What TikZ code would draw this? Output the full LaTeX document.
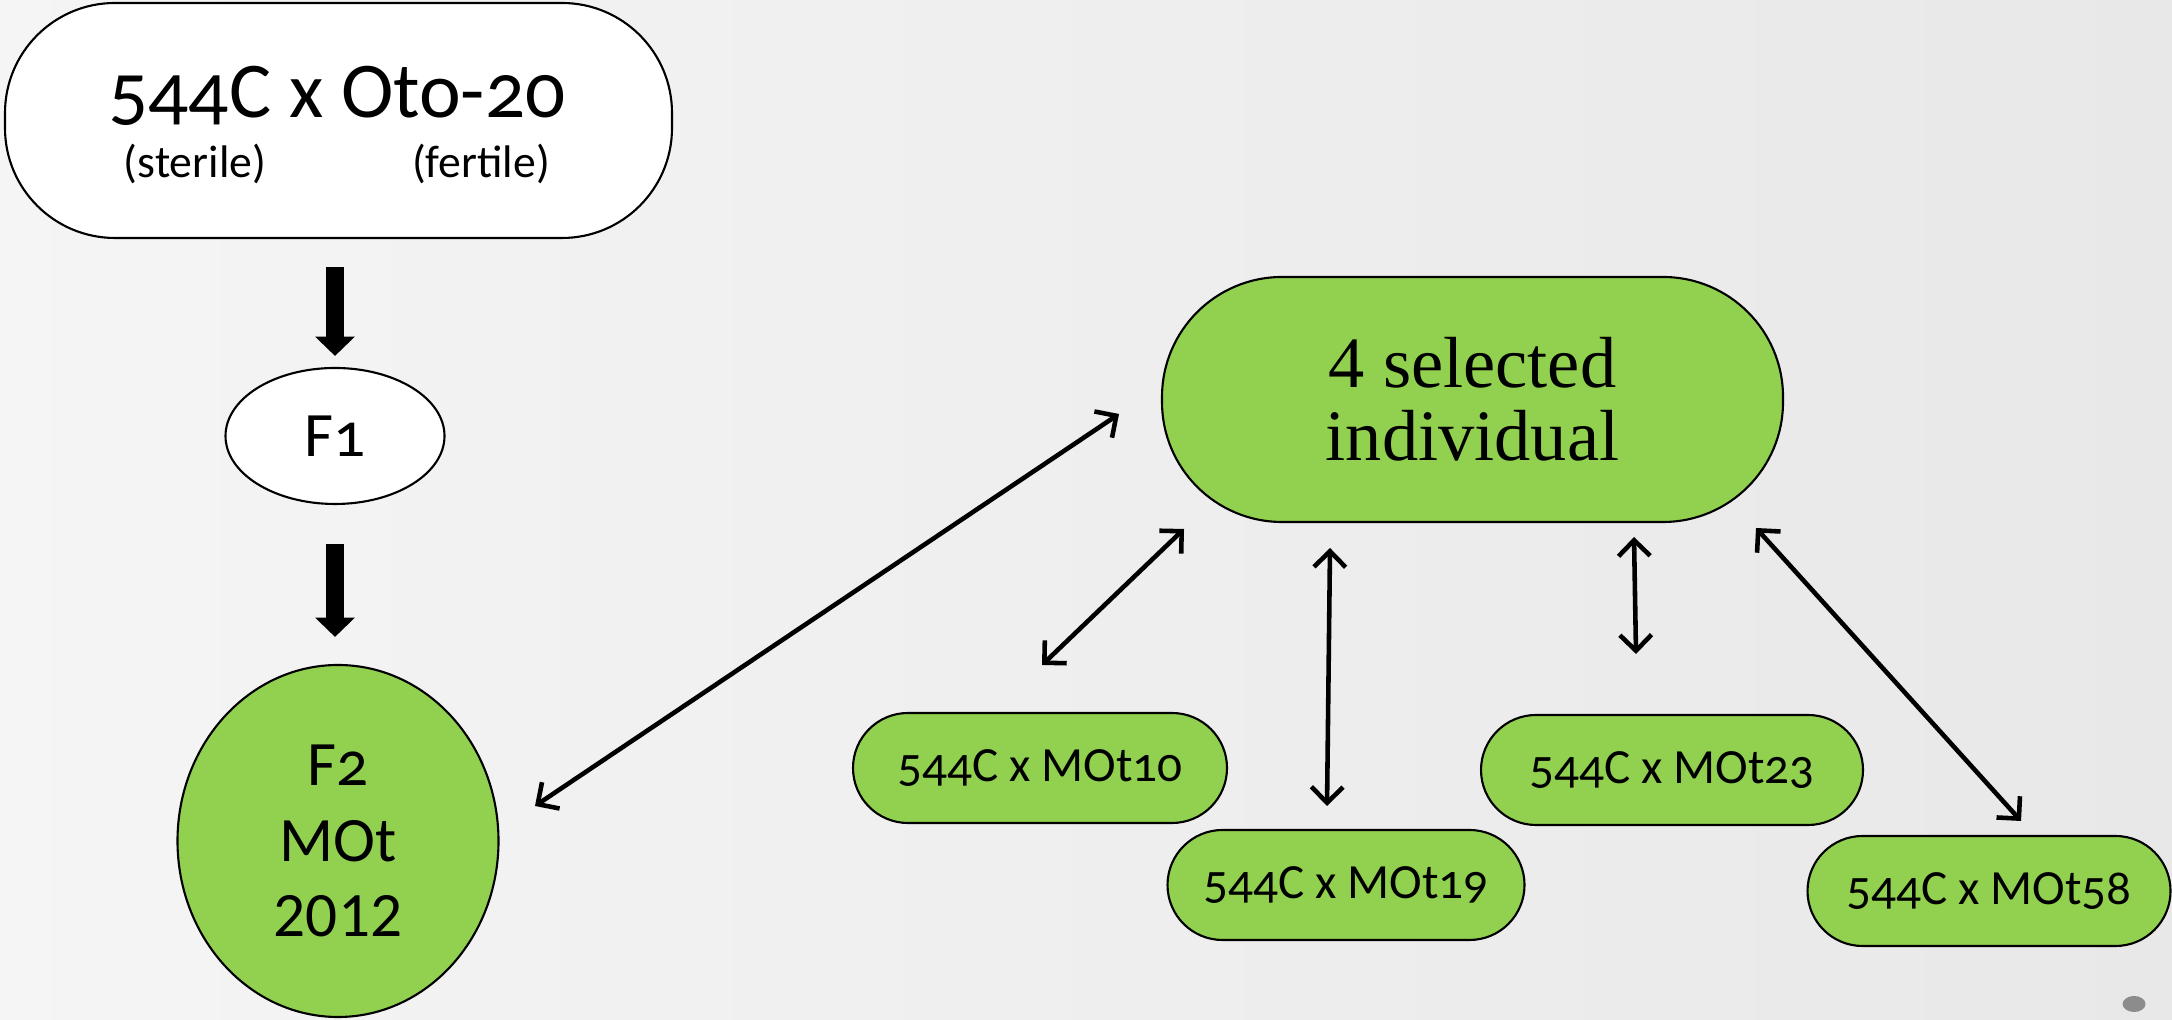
\documentclass[tikz,border=0pt]{standalone}
\usepackage{fontspec}
\setmainfont{Carlito}[Numbers=OldStyle]
\newfontfamily\bookfont{Liberation Serif}
\usetikzlibrary{arrows.meta, positioning, shapes.geometric}
\definecolor{leafgreen}{HTML}{92D050}

\begin{document}
\begin{tikzpicture}[x=1cm, y=1cm, >={Straight Barb[length=4.5pt, width=9pt]},
  every node/.style={inner sep=0pt},
  whiteoval/.style={draw=black, line width=0.6pt, fill=white},
  greenoval/.style={draw=black, line width=0.6pt, fill=leafgreen},
  pill/.style={greenoval, rounded corners=0.55cm, minimum width=#1, minimum height=1.1cm, font=\fontsize{14}{16}\selectfont},
  bigarrow/.style={line width=5pt, -{Triangle[width=11pt, length=5.5pt]}},
  link/.style={<->, line width=1.3pt}]

% Slide background
\shade[left color=black!4, middle color=white, right color=black!9] (0,0) rectangle (21.72,10.2);
\useasboundingbox (0,0) rectangle (21.72,10.2);

% Parent cross
\node[whiteoval, rounded corners=1.1cm, minimum width=6.67cm, minimum height=2.35cm] (cross) at (3.385,8.995) {};
\node[anchor=base, font=\fontsize{22.5}{26}\selectfont] (crossname) at (3.37,9.02) {544C x Oto-20};
\node[anchor=base, font=\fontsize{13}{15}\selectfont] (sterile) at (1.95,8.42) {(sterile)};
\node[anchor=base, font=\fontsize{13}{15}\selectfont] (fertile) at (4.81,8.42) {(fertile)};

% F1 and F2 generations
\node[whiteoval, ellipse, minimum width=2.19cm, minimum height=1.36cm, font=\fontsize{18}{21}\selectfont] (f1) at (3.35,5.84) {F1};
\node[greenoval, ellipse, minimum width=3.21cm, minimum height=3.52cm, align=center, font=\fontsize{18}{21.4}\selectfont] (f2) at (3.38,1.79) {F2\\MOt\\{\addfontfeatures{Numbers=Lining}2012}};

\draw[bigarrow, shorten <=0.28cm, shorten >=0.11cm] (f1 |- cross.south) -- (f1.north);
\draw[bigarrow, shorten <=0.39cm, shorten >=0.27cm] (f1.south) -- (f1.south |- f2.north);

% Selected individuals
\node[greenoval, rounded corners=1.2cm, minimum width=6.21cm, minimum height=2.45cm, align=center, font=\bookfont\fontsize{20.6}{20.7}\selectfont] (sel) at (14.725,6.205) {4 selected\\individual};

% Test crosses
\node[pill=3.74cm] (mot10) at (10.40,2.52) {544C x MOt10};
\node[pill=3.57cm] (mot19) at (13.46,1.35) {544C x MOt19};
\node[pill=3.82cm] (mot23) at (16.72,2.50) {544C x MOt23};
\node[pill=3.63cm] (mot58) at (19.89,1.29) {544C x MOt58};

% Arrow ends
\coordinate (f2-end) at (5.35,2.14);
\coordinate (sel-f2) at (11.19,6.06);
\coordinate (mot10-end) at (10.42,3.55);
\coordinate (sel-mot10) at (11.84,4.91);
\coordinate (mot19-end) at (13.27,2.14);
\coordinate (sel-mot19) at (13.30,4.72);
\coordinate (mot23-end) at (16.36,3.66);
\coordinate (sel-mot23) at (16.34,4.83);
\coordinate (mot58-end) at (20.21,1.99);
\coordinate (sel-mot58) at (17.56,4.92);

\draw[link] (f2-end) -- (sel-f2);
\draw[link] (mot10-end) -- (sel-mot10);
\draw[link] (mot19-end) -- (sel-mot19);
\draw[link] (mot23-end) -- (sel-mot23);
\draw[link] (mot58-end) -- (sel-mot58);

% Slide mark
\fill[black!45] (21.34,0.16) ellipse (0.115 and 0.08);

\end{tikzpicture}
\end{document}
